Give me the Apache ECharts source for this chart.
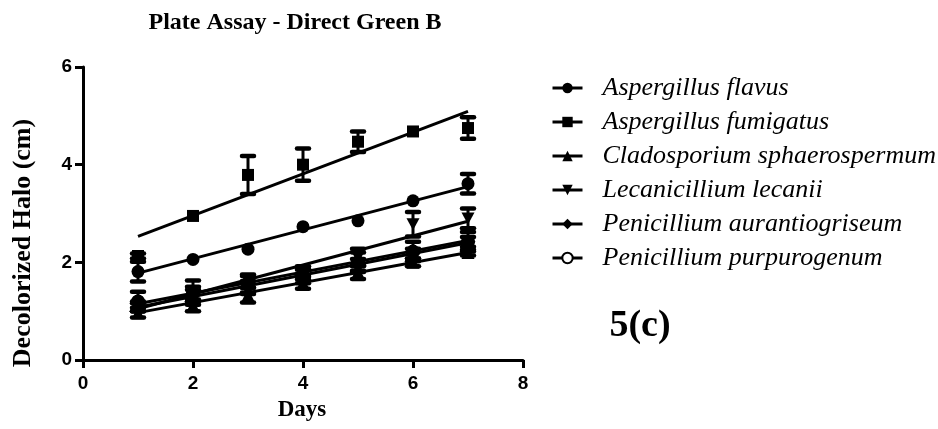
<!DOCTYPE html>
<html><head><meta charset="utf-8">
<script src="https://cdn.jsdelivr.net/npm/echarts@6/dist/echarts.min.js"></script>
<style>html,body{margin:0;padding:0;background:#fff}#c{width:938px;height:429px}</style>
</head><body><div id="c"></div>
<script>
// ---- data ----
const days = [1, 2, 3, 4, 5, 6, 7];
const xTicks = [0, 2, 4, 6, 8];
const yTicks = [0, 2, 4, 6];
const names = ['Aspergillus flavus', 'Aspergillus fumigatus', 'Cladosporium sphaerospermum',
  'Lecanicillium lecanii', 'Penicillium aurantiogriseum', 'Penicillium purpurogenum'];

const flavus = [1.81, 2.06, 2.27, 2.73, 2.85, 3.26, 3.61];
const flavusErr = [0.2, 0, 0, 0, 0, 0, 0.2];
const fumigatus = [2.13, 2.95, 3.79, 4.0, 4.47, 4.68, 4.75];
const fumigatusErr = [0.05, 0, 0.39, 0.33, 0.21, 0, 0.22];
const clado = [0.97, 1.12, 1.33, 1.58, 1.8, 2.0, 2.2];
const cladoErr = [0.1, 0.12, 0.15, 0.12, 0.14, 0.08, 0.06];
const lecan = [1.1, 1.35, 1.6, 1.82, 2.1, 2.78, 2.9];
const lecanErr = [0.1, 0.15, 0.12, 0.1, 0.18, 0.25, 0.2];
const aurant = [1.08, 1.32, 1.5, 1.75, 1.95, 2.18, 2.42];
const aurantErr = [0.08, 0.12, 0.12, 0.1, 0.12, 0.1, 0.1];
const purpur = [1.2, 1.38, 1.55, 1.72, 2.0, 2.22, 2.42];
const purpurErr = [0.2, 0.25, 0.2, 0.15, 0.2, 0.2, 0.2];

// fitted line end values (at day 1 and day 7)
const fitStart = [1.78, 2.53, 0.97, 1.05, 1.08, 1.15];
const fitEnd = [3.55, 5.09, 2.2, 2.84, 2.4, 2.45];
const fitDays = [1, 7];

// ---- build ----
const values = [flavus, fumigatus, clado, lecan, aurant, purpur];
const errs = [flavusErr, fumigatusErr, cladoErr, lecanErr, aurantErr, purpurErr];
const symbols = ['circle', 'rect', 'triangle', 'path://M0,0L2,0L1,1.8Z', 'diamond', 'emptyCircle'];
const symbolSizes = [13, 12, 13, [13, 12], 15, 12];

const serif = 'Liberation Serif';
const sans = 'Liberation Sans';

const series = [];
names.forEach((n, k) => {
  series.push({
    name: 'fit' + k, type: 'line', data: fitDays.map((d, i) => [d, i === 0 ? fitStart[k] : fitEnd[k]]),
    symbol: 'none', lineStyle: { color: '#000', width: 3 }, z: 2, silent: true
  });
});
names.forEach((n, k) => {
  series.push({
    name: 'err' + k, type: 'custom', z: 3, silent: true,
    data: days.map((d, i) => [d, values[k][i] - errs[k][i], values[k][i] + errs[k][i]]),
    encode: { x: 0, y: [1, 2] },
    renderItem: function (params, api) {
      const x = api.value(0), lo = api.value(1), hi = api.value(2);
      if (hi - lo < 1e-6) return { type: 'group', children: [] };
      const p1 = api.coord([x, lo]), p2 = api.coord([x, hi]);
      const hw = 6;
      return {
        type: 'group', children: [
          { type: 'line', shape: { x1: p1[0], y1: p1[1], x2: p2[0], y2: p2[1] }, style: { stroke: '#000', lineWidth: 3 } },
          { type: 'line', shape: { x1: p1[0] - hw, y1: p1[1], x2: p1[0] + hw, y2: p1[1] }, style: { stroke: '#000', lineWidth: 4.5, lineCap: 'round' } },
          { type: 'line', shape: { x1: p2[0] - hw, y1: p2[1], x2: p2[0] + hw, y2: p2[1] }, style: { stroke: '#000', lineWidth: 4.5, lineCap: 'round' } }
        ]
      };
    }
  });
});
names.forEach((n, k) => {
  series.push({
    name: n, type: 'line', data: days.map((d, i) => [d, values[k][i]]),
    symbol: symbols[k], symbolSize: symbolSizes[k], showSymbol: true,
    itemStyle: { color: '#000' },
    lineStyle: { width: 0, opacity: 0 }, z: 4, silent: true
  });
});
// purpurogenum marks drawn solid in the plot (thick outline fills the small ring)
series.push({
  name: 'purpurMarks', type: 'scatter', data: days.map((d, i) => [d, purpur[i]]),
  symbol: 'circle', symbolSize: 13, itemStyle: { color: '#000', opacity: 1 }, z: 5, silent: true
});

const chart = echarts.init(document.getElementById('c'), null, { renderer: 'canvas' });
chart.setOption({
  animation: false,
  backgroundColor: '#fff',
  grid: { left: 83, right: 415, top: 67, bottom: 69, containLabel: false },
  xAxis: {
    type: 'value', min: xTicks[0], max: xTicks[xTicks.length - 1], interval: 2,
    axisLine: { show: true, lineStyle: { color: '#000', width: 3 } },
    axisTick: { show: true, length: 8, lineStyle: { color: '#000', width: 3 } },
    axisLabel: { color: '#000', fontFamily: sans, fontWeight: 'bold', fontSize: 19, margin: 14 },
    splitLine: { show: false }
  },
  yAxis: {
    type: 'value', min: yTicks[0], max: yTicks[yTicks.length - 1], interval: 2,
    axisLine: { show: true, lineStyle: { color: '#000', width: 3 } },
    axisTick: { show: true, length: 8, lineStyle: { color: '#000', width: 3 } },
    axisLabel: { color: '#000', fontFamily: sans, fontWeight: 'bold', fontSize: 19, margin: 11 },
    splitLine: { show: false }
  },
  legend: {
    orient: 'vertical', left: 551, top: 75, padding: 0, itemWidth: 30, itemHeight: 13, itemGap: 8,
    selectedMode: false,
    data: names.map((n, k) => ({
      name: n, lineStyle: { width: 3, color: '#000', opacity: 1 },
      itemStyle: k === 5 ? { borderWidth: 2.5 } : {}
    })),
    textStyle: { fontFamily: serif, fontStyle: 'italic', fontSize: 26, color: '#000', lineHeight: 26, padding: [0, 0, 0, 15] }
  },
  graphic: [
    { type: 'text', x: 295, y: 23, style: { text: 'Plate Assay - Direct Green B', font: 'bold 24px "Liberation Serif"', fill: '#000', textAlign: 'center', textVerticalAlign: 'middle' } },
    { type: 'text', x: 302, y: 410, style: { text: 'Days', font: 'bold 23px "Liberation Serif"', fill: '#000', textAlign: 'center', textVerticalAlign: 'middle' } },
    { type: 'text', x: 23, y: 243, rotation: Math.PI / 2, style: { text: 'Decolorized Halo (cm)', font: 'bold 26px "Liberation Serif"', fill: '#000', textAlign: 'center', textVerticalAlign: 'middle' } },
    { type: 'text', x: 640, y: 326, style: { text: '5(c)', font: 'bold 38px "Liberation Serif"', fill: '#000', textAlign: 'center', textVerticalAlign: 'middle' } }
  ],
  series: series
});
</script>
</body></html>
